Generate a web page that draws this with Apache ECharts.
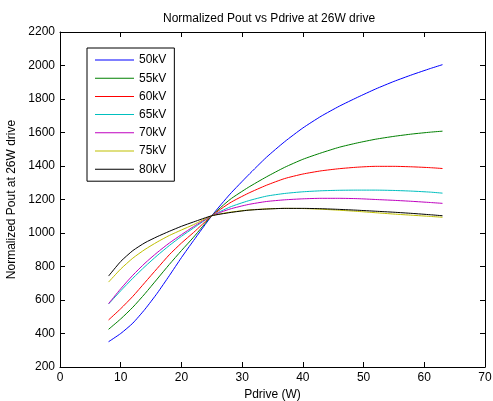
<!DOCTYPE html>
<html>
<head>
<meta charset="utf-8">
<script src="https://cdn.jsdelivr.net/npm/echarts@6/dist/echarts.min.js"></script>
<style>
html,body{margin:0;padding:0;background:#fff;}
#chart{width:493px;height:401px;}
</style>
</head>
<body>
<div id="chart"></div>
<script>
const pdrive = [8, 10, 12, 14, 16, 18, 20, 22, 25, 28, 31, 34, 37, 40, 43, 46, 49, 52, 55, 58, 61, 63];
const kv50 = [351, 400, 462, 545, 640, 745, 853, 955, 1103, 1232, 1345, 1452, 1545, 1627, 1697, 1757, 1810, 1860, 1905, 1945, 1982, 2005];
const kv55 = [425, 487, 557, 638, 725, 812, 895, 975, 1103, 1200, 1272, 1335, 1392, 1440, 1478, 1512, 1538, 1560, 1577, 1591, 1602, 1608];
const kv60 = [481, 548, 622, 705, 788, 870, 940, 1003, 1103, 1180, 1237, 1285, 1325, 1352, 1371, 1384, 1393, 1398, 1398, 1395, 1390, 1385];
const kv65 = [576, 655, 730, 800, 865, 925, 980, 1030, 1103, 1155, 1192, 1220, 1236, 1246, 1252, 1255, 1256, 1256, 1254, 1250, 1244, 1238];
const kv70 = [578, 667, 748, 820, 883, 940, 990, 1038, 1103, 1143, 1170, 1188, 1198, 1204, 1207, 1207, 1205, 1200, 1195, 1189, 1182, 1177];
const kv75 = [707, 785, 850, 902, 946, 985, 1018, 1050, 1103, 1124, 1137, 1144, 1147, 1146, 1142, 1136, 1129, 1121, 1113, 1106, 1099, 1094];
const kv80 = [743, 830, 895, 942, 978, 1010, 1040, 1066, 1103, 1122, 1136, 1143, 1147, 1147, 1145, 1141, 1136, 1130, 1124, 1117, 1109, 1103];
const seriesNames = ['50kV', '55kV', '60kV', '65kV', '70kV', '75kV', '80kV'];
const seriesValues = [kv50, kv55, kv60, kv65, kv70, kv75, kv80];
const colors = ['#0000ff', '#008000', '#ff0000', '#00bfbf', '#bf00bf', '#bfbf00', '#000000'];
const xTicks = {min: 0, max: 70, interval: 10};
const yTicks = {min: 200, max: 2200, interval: 200};

const font = 'Liberation Sans, Arial, Helvetica, sans-serif';
const chart = echarts.init(document.getElementById('chart'), null, {renderer: 'canvas'});

function axisBase(extra) {
  return Object.assign({
    type: 'value',
    axisLine: {show: true, onZero: false, lineStyle: {color: '#000', width: 1}},
    axisTick: {show: true, inside: true, length: 5, lineStyle: {color: '#000', width: 1}},
    splitLine: {show: false},
    axisLabel: {color: '#000', fontSize: 12, fontFamily: font}
  }, extra);
}

const option = {
  animation: false,
  backgroundColor: '#fff',
  color: colors,
  title: {
    text: 'Normalized Pout vs Pdrive at 26W drive',
    left: 158, top: 8,
    textStyle: {fontSize: 12, fontWeight: 'normal', color: '#000', fontFamily: font}
  },
  grid: {left: 60, right: 8, top: 32, bottom: 34, containLabel: false, outerBoundsMode: 'none'},
  legend: {
    orient: 'vertical',
    left: 87, top: 48,
    padding: [5, 8, 5, 8],
    icon: 'rect',
    itemWidth: 39, itemHeight: 1, itemGap: 4.2,
    borderColor: '#000', borderWidth: 1, backgroundColor: '#fff',
    textStyle: {fontSize: 12, color: '#000', fontFamily: font, lineHeight: 14},
    data: seriesNames
  },
  xAxis: [
    axisBase(Object.assign({position: 'bottom', name: 'Pdrive (W)', nameLocation: 'middle', nameGap: 19,
      nameTextStyle: {fontSize: 12, color: '#000', fontFamily: font},
      axisLabel: {color: '#000', fontSize: 12, fontFamily: font, margin: 5, formatter: v => String(v)}}, xTicks)),
    axisBase(Object.assign({position: 'top', axisLabel: {show: false}}, xTicks))
  ],
  yAxis: [
    axisBase(Object.assign({position: 'left', name: 'Normalized Pout at 26W drive', nameLocation: 'middle', nameGap: 38,
      nameTextStyle: {fontSize: 12, color: '#000', fontFamily: font},
      axisLabel: {color: '#000', fontSize: 12, fontFamily: font, margin: 5, formatter: v => String(v)}}, yTicks)),
    axisBase(Object.assign({position: 'right', axisLabel: {show: false}}, yTicks))
  ],
  series: seriesNames.map((name, i) => ({
    name: name,
    type: 'line',
    xAxisIndex: 0, yAxisIndex: 0,
    symbol: 'none',
    smooth: 0.2,
    lineStyle: {width: 1, color: colors[i]},
    itemStyle: {color: colors[i]},
    data: pdrive.map((x, j) => [x, seriesValues[i][j]])
  }))
};
chart.setOption(option);
</script>
</body>
</html>
